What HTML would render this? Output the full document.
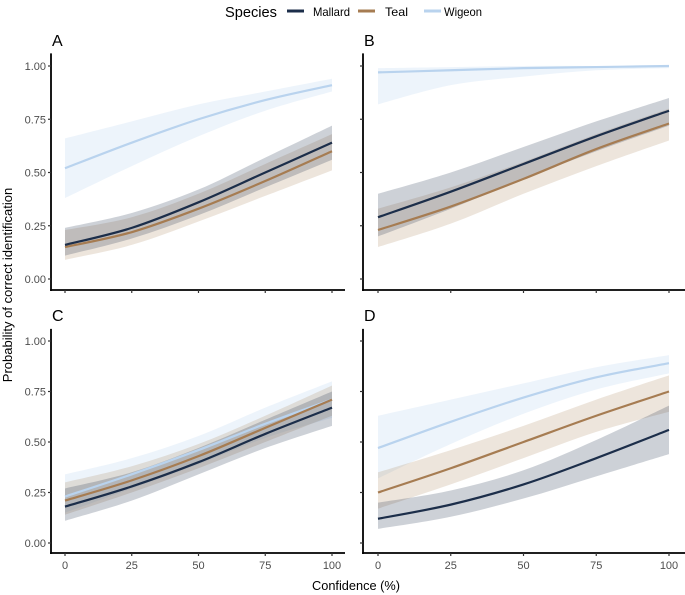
<!DOCTYPE html>
<html><head><meta charset="utf-8"><style>
body{margin:0;background:#fff;}
svg{display:block;font-family:"Liberation Sans",sans-serif;}
</style></head><body>
<svg id="chart" width="685" height="595" viewBox="0 0 685 595">
<g>
<text x="225" y="17" font-size="15" textLength="52" lengthAdjust="spacingAndGlyphs" fill="#000">Species</text>
<line x1="287" y1="11" x2="304" y2="11" stroke="#1c2e4a" stroke-width="3"/>
<text x="313" y="16" font-size="12" textLength="37" lengthAdjust="spacingAndGlyphs">Mallard</text>
<line x1="358" y1="11" x2="375" y2="11" stroke="#a67c52" stroke-width="3"/>
<text x="385" y="16" font-size="12" textLength="23" lengthAdjust="spacingAndGlyphs">Teal</text>
<line x1="424" y1="11" x2="441" y2="11" stroke="#b9d3ee" stroke-width="3"/>
<text x="444" y="16" font-size="12" textLength="38" lengthAdjust="spacingAndGlyphs">Wigeon</text>
</g>
<text transform="translate(12,285) rotate(-90)" text-anchor="middle" font-size="13">Probability of correct identification</text>
<text x="356" y="590" text-anchor="middle" font-size="13" textLength="88" lengthAdjust="spacingAndGlyphs">Confidence (%)</text>
</svg>
<script>
const xTicks=[0,25,50,75,100];
const yTicks=[0,0.25,0.5,0.75,1];
const yTickLabels=["0.00","0.25","0.50","0.75","1.00"];
const species=["Mallard","Teal","Wigeon"];
// Panel A
const aMallard=[0.16,0.24,0.36,0.50,0.64], aMallardLo=[0.11,0.19,0.30,0.43,0.56], aMallardHi=[0.24,0.31,0.42,0.57,0.72];
const aTeal=[0.15,0.22,0.33,0.46,0.60], aTealLo=[0.09,0.16,0.27,0.39,0.51], aTealHi=[0.23,0.29,0.40,0.54,0.68];
const aWigeon=[0.52,0.64,0.75,0.84,0.91], aWigeonLo=[0.38,0.53,0.67,0.79,0.88], aWigeonHi=[0.66,0.74,0.82,0.88,0.94];
// Panel B
const bMallard=[0.29,0.41,0.54,0.67,0.79], bMallardLo=[0.20,0.33,0.47,0.60,0.72], bMallardHi=[0.40,0.50,0.62,0.74,0.85];
const bTeal=[0.23,0.34,0.47,0.61,0.73], bTealLo=[0.15,0.26,0.40,0.53,0.65], bTealHi=[0.33,0.43,0.55,0.68,0.80];
const bWigeon=[0.97,0.98,0.99,0.995,1.00], bWigeonLo=[0.82,0.91,0.95,0.98,0.99], bWigeonHi=[0.99,0.995,1,1,1];
// Panel C
const cMallard=[0.18,0.28,0.40,0.54,0.67], cMallardLo=[0.11,0.21,0.34,0.47,0.58], cMallardHi=[0.27,0.35,0.47,0.61,0.75];
const cTeal=[0.21,0.31,0.43,0.57,0.71], cTealLo=[0.14,0.25,0.37,0.50,0.63], cTealHi=[0.30,0.38,0.49,0.63,0.78];
const cWigeon=[0.23,0.34,0.46,0.59,0.71], cWigeonLo=[0.15,0.27,0.39,0.52,0.62], cWigeonHi=[0.34,0.42,0.53,0.67,0.80];
// Panel D
const dMallard=[0.12,0.19,0.29,0.42,0.56], dMallardLo=[0.07,0.13,0.22,0.33,0.44], dMallardHi=[0.20,0.26,0.36,0.51,0.68];
const dTeal=[0.25,0.37,0.50,0.63,0.75], dTealLo=[0.17,0.29,0.42,0.55,0.65], dTealHi=[0.35,0.46,0.58,0.71,0.83];
const dWigeon=[0.47,0.60,0.72,0.82,0.89], dWigeonLo=[0.32,0.49,0.64,0.76,0.84], dWigeonHi=[0.63,0.71,0.79,0.87,0.93];

const colors={Mallard:"#1c2e4a",Teal:"#a67c52",Wigeon:"#b9d3ee"};
const NS="http://www.w3.org/2000/svg";
const svg=document.getElementById('chart');
function mk(tag,attrs,parent){const e=document.createElementNS(NS,tag);for(const k in attrs)e.setAttribute(k,attrs[k]);(parent||svg).appendChild(e);return e;}
function smooth(pts){let d="M"+pts[0][0]+","+pts[0][1];for(let i=0;i<pts.length-1;i++){const p0=pts[Math.max(0,i-1)],p1=pts[i],p2=pts[i+1],p3=pts[Math.min(pts.length-1,i+2)];
const c1=[p1[0]+(p2[0]-p0[0])/6,p1[1]+(p2[1]-p0[1])/6],c2=[p2[0]-(p3[0]-p1[0])/6,p2[1]-(p3[1]-p1[1])/6];
d+=" C"+c1[0]+","+c1[1]+" "+c2[0]+","+c2[1]+" "+p2[0]+","+p2[1];}return d;}
function smoothCont(pts){return smooth(pts).replace(/^M/,"L");}

const panels=[
 {id:"a",label:"A",ax:51,xr:[65,332],right:345,yr:[279,66],axisY:290,labelY:46,showY:true,data:{Mallard:[aMallard,aMallardLo,aMallardHi],Teal:[aTeal,aTealLo,aTealHi],Wigeon:[aWigeon,aWigeonLo,aWigeonHi]},order:["Wigeon","Teal","Mallard"]},
 {id:"b",label:"B",ax:363,xr:[378,669],right:685,yr:[279,66],axisY:290,labelY:46,showY:false,data:{Mallard:[bMallard,bMallardLo,bMallardHi],Teal:[bTeal,bTealLo,bTealHi],Wigeon:[bWigeon,bWigeonLo,bWigeonHi]},order:["Wigeon","Teal","Mallard"]},
 {id:"c",label:"C",ax:51,xr:[65,332],right:345,yr:[543,341],axisY:553,labelY:321,showY:true,data:{Mallard:[cMallard,cMallardLo,cMallardHi],Teal:[cTeal,cTealLo,cTealHi],Wigeon:[cWigeon,cWigeonLo,cWigeonHi]},order:["Wigeon","Teal","Mallard"]},
 {id:"d",label:"D",ax:363,xr:[378,669],right:685,yr:[543,341],axisY:553,labelY:321,showY:false,data:{Mallard:[dMallard,dMallardLo,dMallardHi],Teal:[dTeal,dTealLo,dTealHi],Wigeon:[dWigeon,dWigeonLo,dWigeonHi]},order:["Wigeon","Teal","Mallard"]}
];
panels.forEach(p=>{
 const g=mk('g',{});
 
 
 const xs=v=>p.xr[0]+(p.xr[1]-p.xr[0])*v/100;
 const ys=v=>p.yr[0]+(p.yr[1]-p.yr[0])*v;
 const t=mk('text',{x:p.ax+1,y:p.labelY,"font-size":16},g);t.textContent=p.label;
 
 
 p.order.forEach(s=>{
  const [m,lo,hi]=p.data[s];
  const up=hi.map((v,i)=>[xs(xTicks[i]),ys(v)]);
  const dn=lo.map((v,i)=>[xs(xTicks[i]),ys(v)]).reverse();
  const band=mk('path',{d:smooth(up)+" "+smoothCont(dn)+" Z",fill:colors[s],"fill-opacity":s==="Wigeon"?0.25:(s==="Mallard"?0.22:0.2)},g);
  
  
 });
 p.order.forEach(s=>{
  const m=p.data[s][0];
  const ln=mk('path',{d:smooth(m.map((v,i)=>[xs(xTicks[i]),ys(v)])),fill:"none",stroke:colors[s],"stroke-width":2.2},g);
  
  
 });
 const ya=mk('line',{x1:p.ax,y1:ys(1.05)-2,x2:p.ax,y2:p.axisY+1,stroke:"#000","stroke-width":1.8},g);
 
 
 const xa=mk('line',{x1:p.ax-0.9,y1:p.axisY,x2:p.right,y2:p.axisY,stroke:"#000","stroke-width":1.8},g);
 
 
 yTicks.forEach((v,i)=>{
  mk('line',{x1:p.ax-3,y1:ys(v),x2:p.ax,y2:ys(v),stroke:"#333","stroke-width":1.2},g);
  if(p.showY){const tl=mk('text',{x:p.ax-5,y:ys(v)+4,"text-anchor":"end","font-size":11,fill:"#4d4d4d"},g);tl.textContent=yTickLabels[i];
   
   }
 });
 xTicks.forEach(v=>{
  mk('line',{x1:xs(v),y1:p.axisY,x2:xs(v),y2:p.axisY+3,stroke:"#333","stroke-width":1.2},g);
  if(p.id==="c"||p.id==="d"){const tl=mk('text',{x:xs(v),y:p.axisY+16,"text-anchor":"middle","font-size":11,fill:"#4d4d4d"},g);tl.textContent=v;
   
   }
 });
});
</script>
</body></html>
